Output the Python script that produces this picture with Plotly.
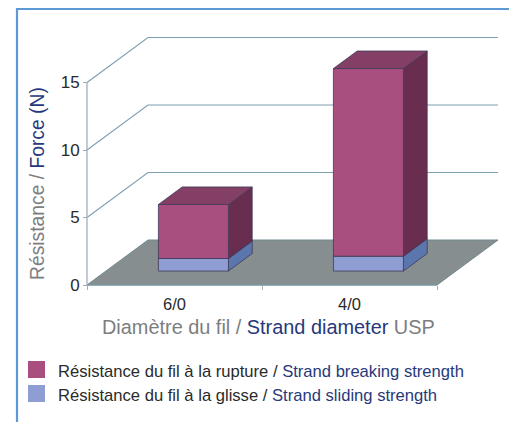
import plotly.graph_objects as go

# ---- data ----
categories = ["6/0", "4/0"]
sliding_strength = [0.93, 1.1]
breaking_strength = [4.0, 13.9]
grid_levels = [5, 10, 15]
y_ticks = [0, 5, 10, 15]

# ---- styles / geometry ----
W, H = 509, 422
X0_PX, Y0_PX = 87, 285
PX_PER_CAT, PX_PER_N = 175.0, 13.5
DEPTH_PX_X, DEPTH_PX_Y = 61.0, 45.0
BAR_W = 0.4
BAR_D0, BAR_D1 = 0.31, 0.70

GREY, NAVY = "#7c7e80", "#27397a"
EDGE = "#3f3a55"
GRID = "#7d9fb0"
C_BREAK = ("#a84f80", "#843f66", "#692d50")
C_SLIDE = ("#8f9ed2", "#8f9ed2", "#5b75ad")


def proj(x, y, d):
    """Oblique projection of (category, value, depth) into axis units."""
    return x + d * DEPTH_PX_X / PX_PER_CAT, y + d * DEPTH_PX_Y / PX_PER_N


fig = go.Figure()


def poly(points, fill=None, line=None, width=1.0):
    pts = [proj(*p) for p in points]
    if fill:
        pts = pts + [pts[0]]
    fig.add_trace(go.Scatter(
        x=[p[0] for p in pts], y=[p[1] for p in pts], mode="lines",
        fill="toself" if fill else None, fillcolor=fill,
        line=dict(color=line or fill, width=width),
        hoverinfo="skip", showlegend=False))


XL, XR = -0.5, len(categories) - 0.5

# floor
poly([(XL, 0, 0), (XR, 0, 0), (XR, 0, 1), (XL, 0, 1)], fill="#868e90", line="#6f8a90")
# grid lines on side and back walls, and the vertical axis line
for v in grid_levels:
    poly([(XL, v, 0), (XL, v, 1), (XR, v, 1)], line=GRID, width=1.1)
poly([(XL, 0, 0), (XL, 15, 0)], line="#9fb0bc", width=1.3)
poly([(XL, 0, 0), (XR, 0, 0)], line="#7d9aa6", width=1.1)


def box(xc, y0, y1, colors):
    a, b = xc - BAR_W / 2, xc + BAR_W / 2
    front, top, side = colors
    poly([(b, y0, BAR_D0), (b, y0, BAR_D1), (b, y1, BAR_D1), (b, y1, BAR_D0)], fill=side, line=EDGE, width=0.8)
    poly([(a, y1, BAR_D0), (b, y1, BAR_D0), (b, y1, BAR_D1), (a, y1, BAR_D1)], fill=top, line=EDGE, width=0.8)
    poly([(a, y0, BAR_D0), (b, y0, BAR_D0), (b, y1, BAR_D0), (a, y1, BAR_D0)], fill=front, line=EDGE, width=0.8)


for i in range(len(categories)):
    box(i, 0, sliding_strength[i], C_SLIDE)
    box(i, sliding_strength[i], sliding_strength[i] + breaking_strength[i], C_BREAK)

fig.update_layout(
    width=W, height=H, margin=dict(l=0, r=0, t=0, b=0),
    paper_bgcolor="white", plot_bgcolor="white", showlegend=False,
    font=dict(family="Liberation Sans", color="#2a2a2a"),
    xaxis=dict(
        range=[XL - X0_PX / PX_PER_CAT, XL + (W - X0_PX) / PX_PER_CAT],
        tickvals=list(range(len(categories))), ticktext=categories,
        showgrid=False, zeroline=False, ticks="", showline=False,
        anchor="free", position=(H - Y0_PX) / H,
        tickfont=dict(size=16.5, color="#2a2a2a"), ticklabelstandoff=7,
        minor=dict(tickvals=[-0.5, 0.5, 1.5], ticks="outside", ticklen=4,
                   tickcolor="#9fb0bc", tickwidth=1, showgrid=False),
    ),
    yaxis=dict(
        range=[-(H - Y0_PX) / PX_PER_N, Y0_PX / PX_PER_N],
        tickvals=y_ticks, showgrid=False, zeroline=False, showline=False,
        anchor="free", position=X0_PX / W,
        ticks="outside", ticklen=4, tickcolor="#9fb0bc", tickwidth=1,
        tickfont=dict(size=17, color="#2a2a2a"),
    ),
)


def px(x):
    return x / W


def py(y):
    return 1 - y / H


def note(x, y, text, size, angle=0, anchor="center"):
    fig.add_annotation(xref="paper", yref="paper", x=px(x), y=py(y), text=text,
                       showarrow=False, textangle=angle, xanchor=anchor, yanchor="middle",
                       font=dict(size=size, family="Liberation Sans", color=GREY))


def span(t, c):
    return f'<span style="color:{c}">{t}</span>'


note(37, 184, span("Résistance / ", GREY) + span("Force (N)", NAVY), 19.3, angle=-90)
note(268, 327, span("Diamètre du fil / ", GREY) + span("Strand diameter", NAVY) + span(" USP", GREY), 19.9)
note(56, 371, span("Résistance du fil à la rupture / ", "#2a2a2a") + span("Strand breaking strength", NAVY), 16.6, anchor="left")
note(56, 395, span("Résistance du fil à la glisse / ", "#2a2a2a") + span("Strand sliding strength", NAVY), 16.6, anchor="left")

for y0, y1, c in [(361, 378, "#a84f80"), (385, 402, "#8f9ed2")]:
    fig.add_shape(type="rect", xref="paper", yref="paper", x0=px(28), x1=px(45), y0=py(y1), y1=py(y0),
                  fillcolor=c, line=dict(width=0))

# frame
fig.add_shape(type="path", xref="paper", yref="paper",
              path=f"M {px(17)} {py(H)} L {px(17)} {py(9)} L {px(W)} {py(9)}",
              line=dict(color="#5b9ad4", width=2.2))

fig.write_html("out.html", config={"displayModeBar": False},
               post_script="document.body.style.margin='0';document.documentElement.style.overflow='hidden';")
